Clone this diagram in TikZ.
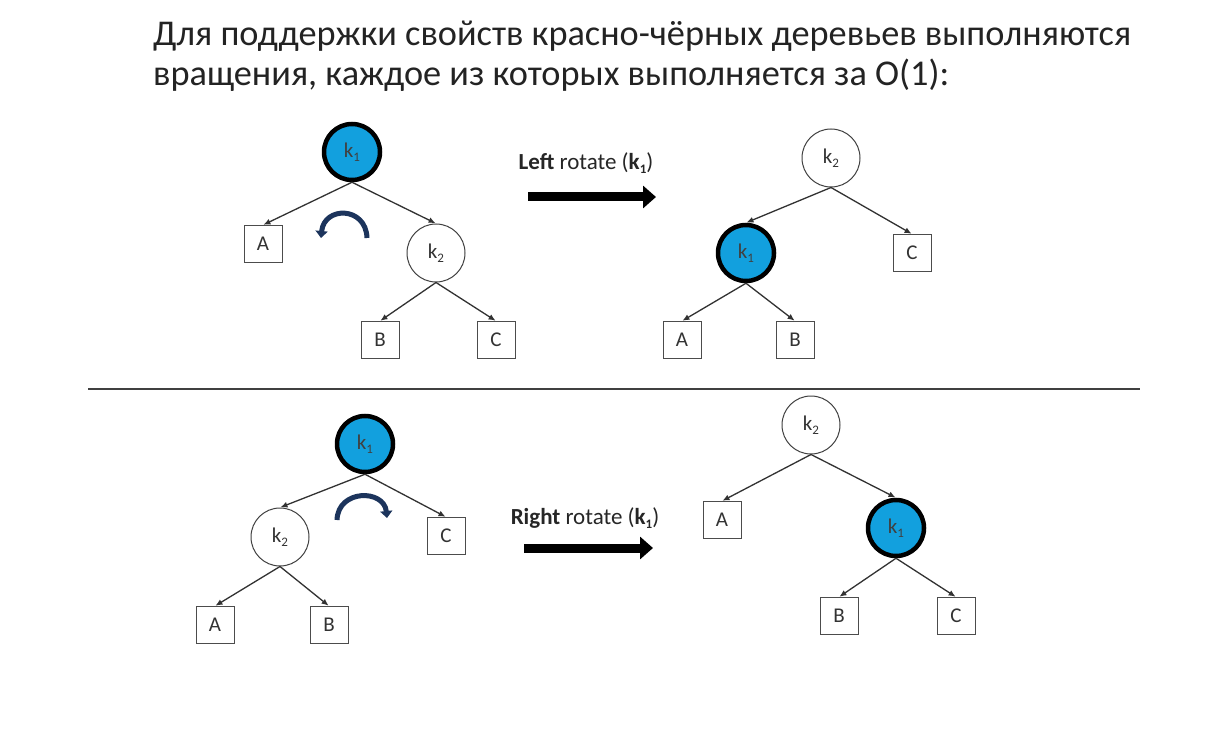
\documentclass[tikz,border=0pt]{standalone}
\usepackage{fontspec}
\setmainfont{Carlito}
\usetikzlibrary{arrows.meta}
\definecolor{kblue}{RGB}{18,160,222}
\definecolor{navy}{RGB}{28,52,92}
\definecolor{edgegray}{RGB}{50,50,50}
\definecolor{titlecol}{RGB}{35,35,35}
\tikzset{
  bnode/.style={circle,fill=kblue,draw=black,line width=4.5pt,minimum size=56pt,inner sep=0pt,font=\fontsize{21}{21}\selectfont,text=black!75},
  wnode/.style={circle,fill=white,draw=black!75,line width=1pt,minimum size=58pt,inner sep=0pt,font=\fontsize{21}{21}\selectfont,text=black!80},
  leaf/.style={rectangle,draw=black!70,line width=1pt,minimum width=38pt,minimum height=37pt,inner sep=0pt,font=\fontsize{21}{21}\selectfont,text=black!80},
  edge/.style={draw=edgegray,line width=1.3pt,-{Latex[length=7pt,width=6pt]},shorten >=0.5pt},
  bigarrow/.style={line width=9pt,-{Triangle[length=13pt,width=22pt]}},
  turn/.style={navy,line width=5pt,-{Triangle[length=7pt,width=12pt]}},
  lab/.style={font=\fontsize{23}{23}\selectfont,text=black!85,inner sep=0pt},
  title/.style={font=\fontsize{36.3}{36}\selectfont,text=titlecol,anchor=base west,inner sep=0pt}
}
\newcommand{\kk}[1]{k\raisebox{-0.35ex}{\fontsize{13}{13}\selectfont #1}}
\begin{document}
\begin{tikzpicture}[x=1pt,y=-1pt]
\useasboundingbox[fill=white] (0,0) rectangle (1226,735);
% title
\node[title] (t1) at (153,46) {Для поддержки свойств красно-чёрных деревьев выполняются};
\node[title] (t2) at (153,86) {вращения, каждое из которых выполняется за O(1):};

% ---------- top left tree
\node[bnode] (a1) at (352,152) {\kk{1}};
\node[leaf]  (aA) at (263,244) {A};
\node[wnode] (a2) at (436,253) {\kk{2}};
\node[leaf]  (aB) at (380,340) {B};
\node[leaf]  (aC) at (496,340) {C};
\draw[edge] (a1.south) -- (aA.north);
\draw[edge] (a1.south) -- (a2.north);
\draw[edge] (a2.south) -- (aB.north);
\draw[edge] (a2.south) -- (aC.north);
\draw[turn] (367,238) .. controls (366,206) and (324,206) .. (321,238);

% top arrow + label
\node[lab] (l1) at (586,163) {\textbf{Left} rotate (\textbf{\kk{1}})};
\coordinate (ar1s) at (528,197);
\coordinate (ar1e) at (656,197);
\draw[bigarrow] (ar1s) -- (ar1e);

% ---------- top right tree
\node[wnode] (b2) at (831,158) {\kk{2}};
\node[bnode] (b1) at (746,253) {\kk{1}};
\node[leaf]  (bC) at (912,253) {C};
\node[leaf]  (bA) at (682,340) {A};
\node[leaf]  (bB) at (795,340) {B};
\draw[edge] (b2.south) -- (b1.north);
\draw[edge] (b2.south) -- (bC.north);
\draw[edge] (b1.south) -- (bA.north);
\draw[edge] (b1.south) -- (bB.north);

% separator
\coordinate (s1) at (88,389);
\coordinate (s2) at (1140,389);
\draw[black!75,line width=1.8pt] (s1) -- (s2);

% ---------- bottom left tree
\node[bnode] (c1) at (365,444) {\kk{1}};
\node[wnode] (c2) at (280,537) {\kk{2}};
\node[leaf]  (cC) at (446,536) {C};
\node[leaf]  (cA) at (215,625) {A};
\node[leaf]  (cB) at (329,625) {B};
\draw[edge] (c1.south) -- (c2.north);
\draw[edge] (c1.south) -- (cC.north);
\draw[edge] (c2.south) -- (cA.north);
\draw[edge] (c2.south) -- (cB.north);
\draw[turn] (337,520) .. controls (338,489) and (384,489) .. (387,518);

% bottom arrow + label
\node[lab] (l2) at (585,518) {\textbf{Right} rotate (\textbf{\kk{1}})};
\coordinate (ar2s) at (524,548);
\coordinate (ar2e) at (653,548);
\draw[bigarrow] (ar2s) -- (ar2e);

% ---------- bottom right tree
\node[wnode] (d2) at (811,425) {\kk{2}};
\node[leaf]  (dA) at (722,520) {A};
\node[bnode] (d1) at (896,528) {\kk{1}};
\node[leaf]  (dB) at (839,616) {B};
\node[leaf]  (dC) at (956,616) {C};
\draw[edge] (d2.south) -- (dA.north);
\draw[edge] (d2.south) -- (d1.north);
\draw[edge] (d1.south) -- (dB.north);
\draw[edge] (d1.south) -- (dC.north);
\end{tikzpicture}
\end{document}
